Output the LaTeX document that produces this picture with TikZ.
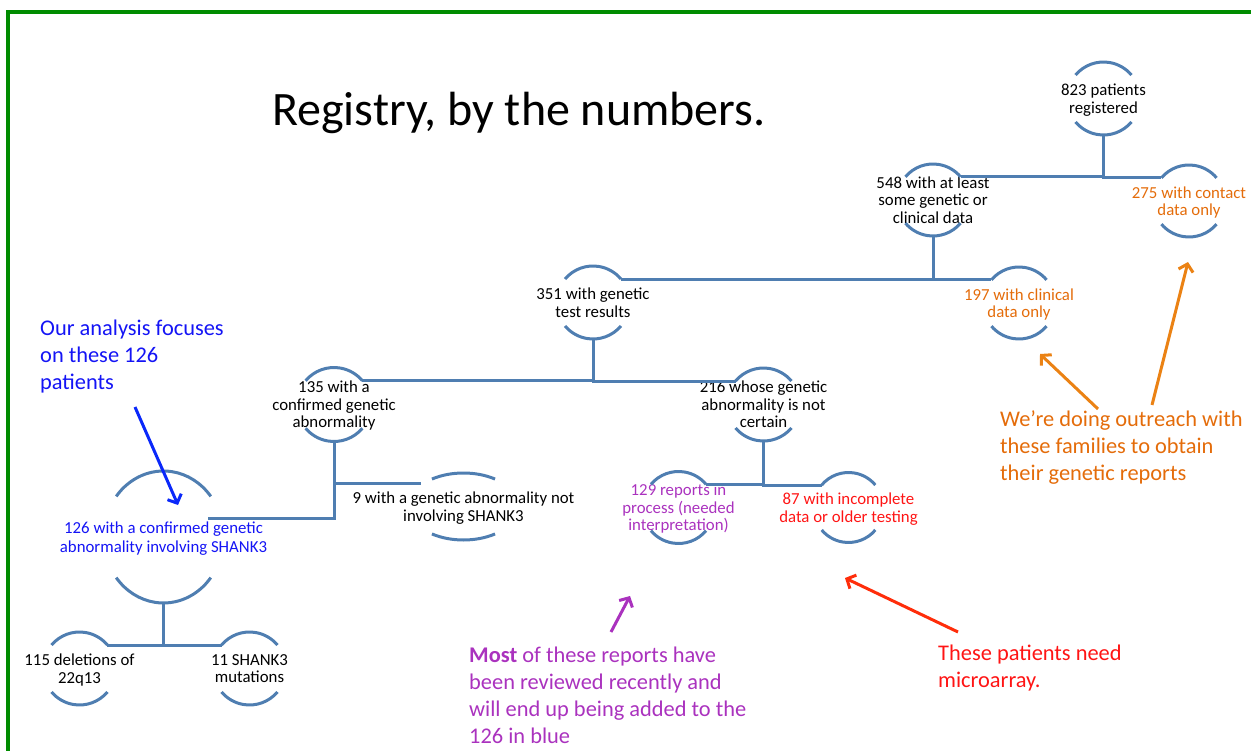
\documentclass[tikz,border=0pt]{standalone}
\usepackage{fontspec}
\setmainfont{Carlito}
\usepackage{tikz}
\usetikzlibrary{arrows.meta}
\usetikzlibrary{calc}
\definecolor{linkblue}{RGB}{79,126,177}
\definecolor{framegreen}{RGB}{0,140,0}
\definecolor{txtorange}{RGB}{228,108,10}
\definecolor{txtpurple}{RGB}{170,50,190}
\definecolor{txtblue}{RGB}{20,20,245}
\definecolor{txtred}{RGB}{255,20,20}
\definecolor{arrblue}{RGB}{10,40,250}
\definecolor{arrred}{RGB}{255,45,10}
\definecolor{arrorange}{RGB}{235,130,20}
\tikzstyle{every node}=[inner sep=0pt, align=center, font=\fontsize{16.8}{17.5}\selectfont]
\tikzstyle{count}=[text depth=0pt]
\tikzstyle{link}=[draw=linkblue, line width=3pt]
\tikzstyle{note}=[align=left, anchor=north west, font=\fontsize{22.4}{27}\selectfont]
\tikzset{pointer/.style={line width=3pt, -{Straight Barb[length=7pt,width=15pt]}}}

% two arcs round a node: name, x radius, y radius, half opening
\newcommand\arcpair[4]{%
  \draw[link] ($(#1.center)+(90-#4:#2 and #3)$) arc[start angle=90-#4, end angle=90+#4, x radius=#2, y radius=#3];
  \draw[link] ($(#1.center)+(270-#4:#2 and #3)$) arc[start angle=270-#4, end angle=270+#4, x radius=#2, y radius=#3];
  \coordinate (#1-bot) at ($(#1.center)+(90:#2 and #3)$);
  \coordinate (#1-ul) at ($(#1.center)+(270-#4:#2 and #3)$);
  \coordinate (#1-ur) at ($(#1.center)+(270+#4:#2 and #3)$);}

\begin{document}
\begin{tikzpicture}[x=1pt,y=-1pt]
\useasboundingbox (0,0) rectangle (1251,751);
\draw[framegreen, line width=4pt] (7.5,751) -- (7.5,12.5) -- (1251,12.5);

\node[anchor=base west, font=\fontsize{48}{56}\selectfont] (title) at (272,126) {Registry, by the numbers.};

% tree
\node[count] (n823) at (1103.5,98.5) {823 patients\\registered};
\node[count] (n548) at (933,200) {548 with at least\\some genetic or\\clinical data};
\node[count, txtorange] (n275) at (1189,201) {275 with contact\\data only};
\node[count] (n351) at (593,302.5) {351 with genetic\\test results};
\node[count, txtorange] (n197) at (1019,303) {197 with clinical\\data only};
\node[count] (n135) at (334,404.5) {135 with a\\confirmed genetic\\abnormality};
\node[count] (n216) at (763.5,404.5) {216 whose genetic\\abnormality is not\\certain};
\node[count, txtblue, font=\fontsize{16.8}{19}\selectfont] (n126) at (163.5,537) {126 with a confirmed genetic\\abnormality involving SHANK3};
\node[count] (n9) at (463.5,506.5) {9 with a genetic abnormality not\\involving SHANK3};
\node[count, txtpurple] (n129) at (678.5,507.5) {129 reports in\\process (needed\\interpretation)};
\node[count, txtred] (n87) at (848.5,507.5) {87 with incomplete\\data or older testing};
\node[count] (n115) at (79.5,668.5) {115 deletions of\\22q13};
\node[count] (n11) at (249.5,668.5) {11 SHANK3\\mutations};

\arcpair{n823}{36.5}{36.5}{50}
\arcpair{n548}{36}{36}{50}
\arcpair{n275}{36}{36}{50}
\arcpair{n351}{36.5}{36.5}{50}
\arcpair{n197}{36}{36}{50}
\arcpair{n135}{37}{37}{50}
\arcpair{n216}{36.5}{36.5}{50}
\arcpair{n126}{60}{66}{52}
\arcpair{n9}{55}{33.5}{35}
\arcpair{n129}{36}{36}{50}
\arcpair{n87}{35}{35}{50}
\arcpair{n115}{36.5}{36.5}{50}
\arcpair{n11}{36.5}{36.5}{50}

\coordinate (n126-side) at ($(n126.center)+(44,-19)$);
\coordinate (n9-side) at ($(n9.center)+(-43,-23.5)$);

\draw[link] (n823-bot) |- (n548-ur);
\draw[link] (n823-bot) |- (n275-ul);
\draw[link] (n548-bot) |- (n351-ur);
\draw[link] (n548-bot) |- (n197-ul);
\draw[link] (n351-bot) |- (n135-ur);
\draw[link] (n351-bot) |- (n216-ul);
\draw[link] (n135-bot) |- (n126-side);
\draw[link] (n135-bot) |- (n9-side);
\draw[link] (n216-bot) |- (n129-ur);
\draw[link] (n216-bot) |- (n87-ul);
\draw[link] (n126-bot) |- (n115-ur);
\draw[link] (n126-bot) |- (n11-ul);

% notes
\node[note, txtblue] (focus) at (40,320) {Our analysis focuses\\on these 126\\patients};
\node[note, txtpurple] (review) at (469,647) {\textbf{Most} of these reports have\\been reviewed recently and\\will end up being added to the\\126 in blue};
\node[note, txtred] (array) at (938,644.5) {These patients need\\microarray.};
\node[note, txtorange] (outreach) at (1000,411) {We’re doing outreach with\\these families to obtain\\their genetic reports};

\coordinate (focus-tail) at (135,407);
\coordinate (focus-tip) at (178,505);
\coordinate (review-tail) at (611,632);
\coordinate (review-tip) at (630,596);
\coordinate (array-tail) at (958,632);
\coordinate (array-tip) at (845,578);
\coordinate (outreach-tail1) at (1098,409);
\coordinate (outreach-tip1) at (1040,354);
\coordinate (outreach-tail2) at (1152,405);
\coordinate (outreach-tip2) at (1188,262);

\draw[pointer, arrblue] (focus-tail) -- (focus-tip);
\draw[pointer, txtpurple] (review-tail) -- (review-tip);
\draw[pointer, arrred] (array-tail) -- (array-tip);
\draw[pointer, arrorange] (outreach-tail1) -- (outreach-tip1);
\draw[pointer, arrorange] (outreach-tail2) -- (outreach-tip2);
\end{tikzpicture}
\end{document}
